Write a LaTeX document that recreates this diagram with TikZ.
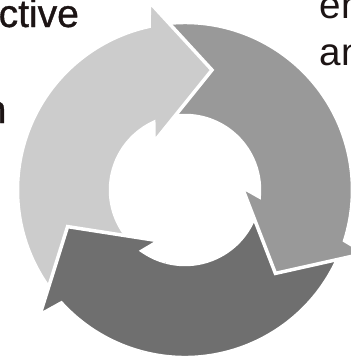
\documentclass[tikz,border=0pt]{standalone}
\usepackage{fontspec}
\setmainfont{Liberation Sans}
\newfontfamily\heavierfont[FakeBold=0.9]{Liberation Sans}
\definecolor{arrA}{HTML}{CCCCCC}
\definecolor{arrB}{HTML}{999999}
\definecolor{arrC}{HTML}{6F6F6F}
\definecolor{txt}{HTML}{1C1414}
\newcommand\cyclearrow{(219:167.5) arc[start angle=219, end angle=102.4, radius=167.5] -- (-35.5,188) -- (27,120) -- (-31,48) -- (114.8:74.5) arc[start angle=114.8, end angle=224, radius=74.5] -- cycle}
\begin{document}
\begin{tikzpicture}[x=1pt,y=1pt,
  seg/.style={draw=white, line width=3.5pt},
  lbl/.style={anchor=base west, inner sep=0pt, text=txt, font=\fontsize{38.6}{48}\selectfont}]
\useasboundingbox (-185,-170) rectangle (166,190);
% darkest arrow (bottom)
\begin{scope}[rotate=120]
  \path[seg, fill=arrC] \cyclearrow;
\end{scope}
% middle gray arrow (right)
\begin{scope}[rotate=-120]
  \path[seg, fill=arrB] \cyclearrow;
\end{scope}
% light arrow (left/top)
\path[seg, fill=arrA] \cyclearrow;
% redraw darkest head on top of light tail
\begin{scope}
  \clip (0,0) -- (185:260) arc[start angle=185, end angle=255, radius=260] -- cycle;
  \begin{scope}[rotate=120]
    \path[seg, fill=arrC] \cyclearrow;
  \end{scope}
\end{scope}
% texts
\node[lbl, font=\fontsize{39}{48}\heavierfont] (t1) at (-186.5,163) {ctive};
\node[lbl, font=\fontsize{39}{48}\heavierfont] (t2) at (-200.5,67) {n};
\node[lbl] (t3) at (134.5,172) {en};
\node[lbl] (t4) at (134.5,125) {an};
\end{tikzpicture}
\end{document}
